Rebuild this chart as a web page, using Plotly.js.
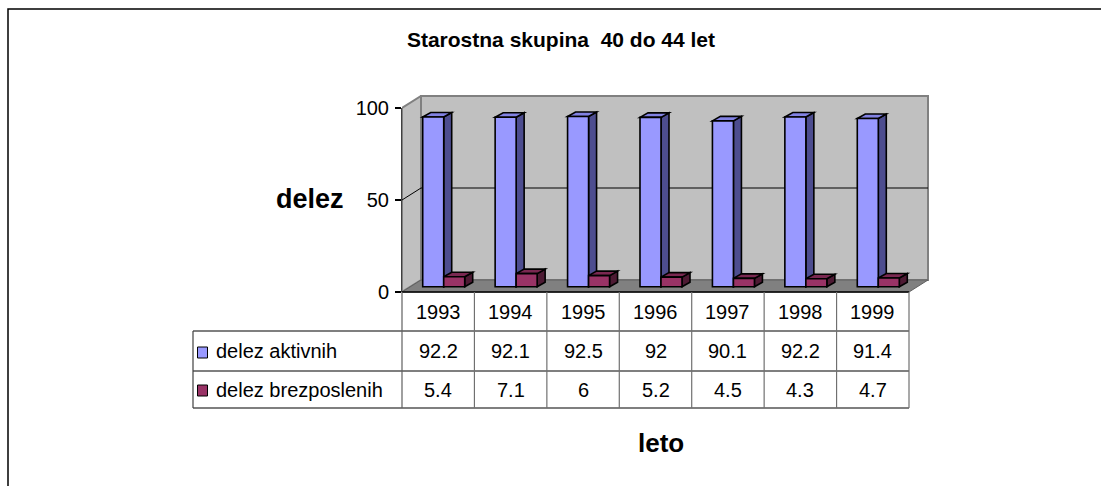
<!DOCTYPE html>
<html>
<head>
<meta charset="utf-8">
<script src="https://cdn.plot.ly/plotly-3.0.1.min.js"></script>
<style>html,body{margin:0;padding:0;background:#fff;}#chart{width:1101px;height:486px;}</style>
</head>
<body>
<div id="chart"></div>
<script>
// ---- data ----
const years = ['1993', '1994', '1995', '1996', '1997', '1998', '1999'];
const delezAktivnih = [92.2, 92.1, 92.5, 92, 90.1, 92.2, 91.4];
const delezBrezposlenih = [5.4, 7.1, 6, 5.2, 4.5, 4.3, 4.7];
const seriesNames = ['delez aktivnih', 'delez brezposlenih'];
const yTickVals = [0, 50, 100];
const chartTitle = 'Starostna skupina  40 do 44 let';
const yTitle = 'delez';
const xTitle = 'leto';

// ---- layout geometry (pixels) ----
const W = 1101, H = 486;
const L = 402, R = 930, T = 95, B = 294;
const CW = 507 / 7;          // px per category
const PY = 1.84;             // px per y unit
const Y0PX = 292;            // pixel of y=0 on the front plane
const xRange = [-0.5, -0.5 + (R - L) / CW];
const yRange = [(Y0PX - B) / PY, (Y0PX - T) / PY];
const n = years.length;

// depth of the 3D box and of the bars
const DX = 19 / CW, DY = 12 / PY;
const FY = 5.3 / PY;                 // bars sit a little behind the front plane
const BW = 21 / CW;                  // bar width
const BDX = 8 / CW, BDY = 4.5 / PY;  // bar depth
const offBlue = -5 / CW, offRed = 16 / CW;

const px2x = px => (px - L) / (R - L);
const py2y = py => (B - py) / (B - T);

const FONT = 'Liberation Sans, Arial, sans-serif';
const cBlue = '#9999FF', cBlueSide = '#4D4D8F', cBlueTop = '#8282E3';
const cRed = '#993366', cRedSide = '#4D1A33', cRedTop = '#7A2851';

function poly(pts) {
  return 'M' + pts.map(p => p[0] + ',' + p[1]).join('L') + 'Z';
}

const shapes = [];
// outer frame
shapes.push({type: 'rect', xref: 'paper', yref: 'paper', x0: px2x(8), x1: px2x(1120), y0: py2y(9), y1: py2y(520),
  line: {color: '#000', width: 1.5}, fillcolor: 'rgba(0,0,0,0)', layer: 'below'});
// walls
const xa = -0.5, xb = n - 0.5;
shapes.push({type: 'path', xref: 'x', yref: 'y', layer: 'below',
  path: poly([[xa + DX, DY], [xb + DX, DY], [xb + DX, 100 + DY], [xa + DX, 100 + DY]]),
  fillcolor: '#C0C0C0', line: {color: '#808080', width: 2}});
shapes.push({type: 'path', xref: 'x', yref: 'y', layer: 'below',
  path: poly([[xa, 0], [xa + DX, DY], [xa + DX, 100 + DY], [xa, 100]]),
  fillcolor: '#C0C0C0', line: {color: '#808080', width: 2}});
shapes.push({type: 'path', xref: 'x', yref: 'y', layer: 'below',
  path: poly([[xa, 0], [xb, 0], [xb + DX, DY], [xa + DX, DY]]),
  fillcolor: '#808080', line: {color: '#606060', width: 1}});
// gridline at 50
shapes.push({type: 'path', xref: 'x', yref: 'y', layer: 'below',
  path: 'M' + xa + ',50L' + (xa + DX) + ',' + (50 + DY) + 'L' + (xb + DX) + ',' + (50 + DY),
  line: {color: '#000', width: 1}});
// front edge (category axis)
shapes.push({type: 'line', xref: 'x', yref: 'y', layer: 'below', x0: xa, x1: xb, y0: 0, y1: 0,
  line: {color: '#000', width: 1.5}});
// value axis line
shapes.push({type: 'line', xref: 'paper', yref: 'y', layer: 'below', x0: 0, x1: 0, y0: 0, y1: 100,
  line: {color: '#000', width: 1.5}});

// bar sides and tops
function barFaces(vals, off, side, top) {
  vals.forEach((v, i) => {
    const xl = i + off - BW / 2, xr = i + off + BW / 2;
    const y1 = FY + v;
    shapes.push({type: 'path', xref: 'x', yref: 'y', layer: 'below',
      path: poly([[xr, FY], [xr + BDX, FY + BDY], [xr + BDX, y1 + BDY], [xr, y1]]),
      fillcolor: side, line: {color: '#000', width: 1.6}});
    shapes.push({type: 'path', xref: 'x', yref: 'y', layer: 'below',
      path: poly([[xl, y1], [xl + BDX, y1 + BDY], [xr + BDX, y1 + BDY], [xr, y1]]),
      fillcolor: top, line: {color: '#000', width: 1.6}});
  });
}
barFaces(delezAktivnih, offBlue, cBlueSide, cBlueTop);
barFaces(delezBrezposlenih, offRed, cRedSide, cRedTop);

// data table
const tblLeft = 193;
// horizontal lines
[331, 371, 408].forEach(py => {
  shapes.push({type: 'line', xref: 'paper', yref: 'paper', x0: px2x(tblLeft), x1: (xb - xRange[0]) / (xRange[1] - xRange[0]),
    y0: py2y(py), y1: py2y(py), line: {color: '#000', width: 1.2}});
});
// left border of legend column
shapes.push({type: 'line', xref: 'paper', yref: 'paper', x0: px2x(tblLeft), x1: px2x(tblLeft), y0: py2y(331), y1: py2y(408),
  line: {color: '#404040', width: 1.2}});
// column lines
shapes.push({type: 'line', xref: 'paper', yref: 'paper', x0: 0, x1: 0, y0: py2y(292), y1: py2y(408),
  line: {color: '#606060', width: 1.2}});
for (let i = 1; i <= n; i++) {
  shapes.push({type: 'line', xref: 'x', yref: 'paper', x0: i - 0.5, x1: i - 0.5, y0: py2y(292), y1: py2y(408),
    line: {color: '#707070', width: 1.2}});
}
// legend keys
[[cBlue, 352.5], [cRed, 390.5]].forEach(([c, cy]) => {
  shapes.push({type: 'rect', xref: 'paper', yref: 'paper', x0: px2x(197.5), x1: px2x(207.5), y0: py2y(cy - 5.5), y1: py2y(cy + 5.5),
    fillcolor: c, line: {color: '#000', width: 1}});
});

const annotations = [];
const tf = {family: FONT, size: 20, color: '#000'};
years.forEach((yr, i) => {
  annotations.push({xref: 'x', yref: 'paper', x: i, y: py2y(311.5), text: yr, showarrow: false, font: tf, xanchor: 'center', yanchor: 'middle'});
  annotations.push({xref: 'x', yref: 'paper', x: i, y: py2y(351), text: String(delezAktivnih[i]), showarrow: false, font: tf, xanchor: 'center', yanchor: 'middle'});
  annotations.push({xref: 'x', yref: 'paper', x: i, y: py2y(389.5), text: String(delezBrezposlenih[i]), showarrow: false, font: tf, xanchor: 'center', yanchor: 'middle'});
});
annotations.push({xref: 'paper', yref: 'paper', x: px2x(214), y: py2y(351), text: seriesNames[0], showarrow: false, font: tf, xanchor: 'left', yanchor: 'middle'});
annotations.push({xref: 'paper', yref: 'paper', x: px2x(214), y: py2y(389.5), text: seriesNames[1], showarrow: false, font: tf, xanchor: 'left', yanchor: 'middle'});
annotations.push({xref: 'paper', yref: 'paper', x: px2x(346), y: py2y(199), text: yTitle, showarrow: false,
  font: {family: FONT, size: 27, color: '#000', weight: 700}, xanchor: 'right', yanchor: 'middle'});
annotations.push({xref: 'paper', yref: 'paper', x: px2x(661), y: py2y(443), text: xTitle, showarrow: false,
  font: {family: FONT, size: 26, color: '#000', weight: 700}, xanchor: 'center', yanchor: 'middle'});

const traces = [
  {type: 'bar', name: seriesNames[0], x: years.map((_, i) => i + offBlue), y: delezAktivnih,
   base: years.map(() => FY), width: BW, marker: {color: cBlue, line: {color: '#000', width: 1.6}}, hoverinfo: 'skip', showlegend: false},
  {type: 'bar', name: seriesNames[1], x: years.map((_, i) => i + offRed), y: delezBrezposlenih,
   base: years.map(() => FY), width: BW, marker: {color: cRed, line: {color: '#000', width: 1.6}}, hoverinfo: 'skip', showlegend: false}
];

const layout = {
  width: W, height: H,
  margin: {l: L, r: W - R, t: T, b: H - B, pad: 0},
  paper_bgcolor: '#fff', plot_bgcolor: 'rgba(0,0,0,0)',
  barmode: 'overlay',
  showlegend: false,
  title: {text: chartTitle, x: 561 / W, y: 1 - 40 / H, xanchor: 'center', yanchor: 'middle', xref: 'container', yref: 'container',
    font: {family: FONT, size: 21, color: '#000', weight: 700}},
  xaxis: {range: xRange, showgrid: false, zeroline: false, showline: false, showticklabels: false, ticks: '', fixedrange: true},
  yaxis: {range: yRange, showgrid: false, zeroline: false, showline: false, tickvals: yTickVals, ticktext: yTickVals.map(String),
    ticks: 'outside', ticklen: 6, tickwidth: 1.2, tickcolor: '#000', ticklabelstandoff: 2,
    tickfont: {family: FONT, size: 20, color: '#000'}, fixedrange: true},
  shapes: shapes,
  annotations: annotations
};

Plotly.newPlot('chart', traces, layout, {displayModeBar: false, staticPlot: true});
</script>
</body>
</html>
